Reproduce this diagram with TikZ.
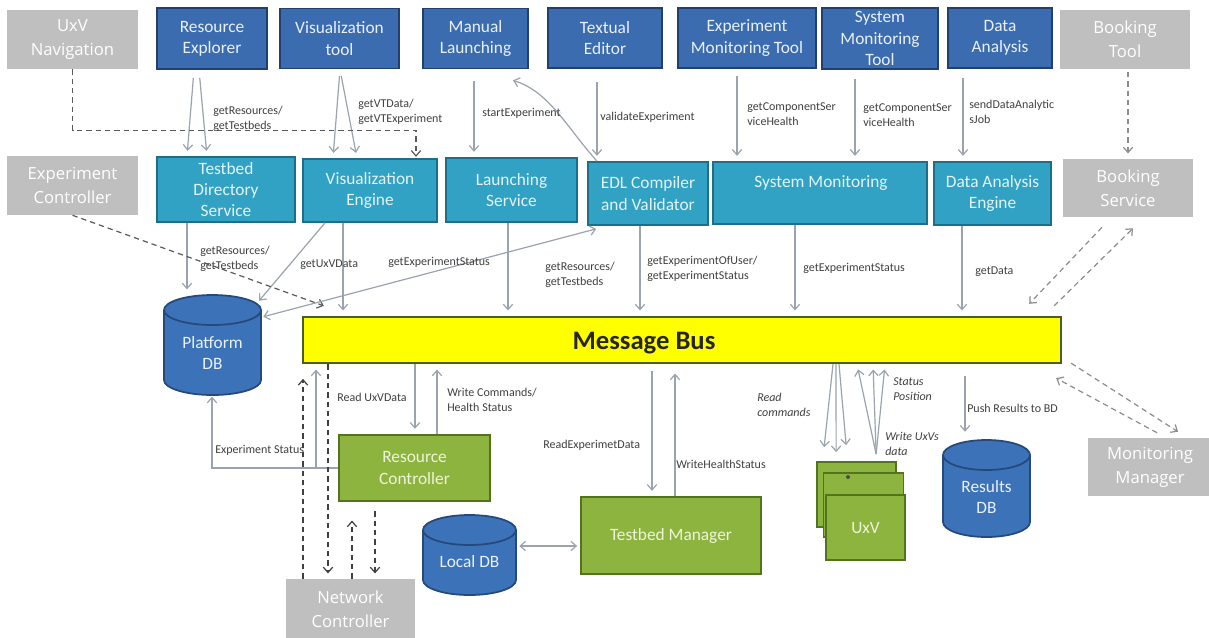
\documentclass[tikz,border=0pt]{standalone}
\usepackage{fontspec}
\setmainfont{Carlito}
\newfontfamily\grayfont{Open Sans}
\usetikzlibrary{arrows.meta,calc}
\def\pxu{0.75pt}
\definecolor{cdblue}{HTML}{3B6CB0}
\definecolor{cdblueB}{HTML}{22406E}
\definecolor{cteal}{HTML}{31A2C3}
\definecolor{ctealB}{HTML}{1D6E88}
\definecolor{cgreen}{HTML}{8DB43E}
\definecolor{cgreenB}{HTML}{55731F}
\definecolor{cgray}{HTML}{BFBFBF}
\definecolor{cyel}{HTML}{FFFF00}
\definecolor{cyelB}{HTML}{4A5E1E}
\definecolor{cdb}{HTML}{3B72B8}
\definecolor{cdbB}{HTML}{24497A}
\definecolor{cline}{HTML}{9AA3AE}
\definecolor{clbl}{HTML}{404040}
\definecolor{cdash}{HTML}{5A5A5A}
\definecolor{cdash2}{HTML}{8C8C8C}
\definecolor{cdash3}{HTML}{404040}
\definecolor{tblue}{HTML}{EAF0F8}
\definecolor{tteal}{HTML}{E4F3F8}
\definecolor{tgreen}{HTML}{EEF4DC}
\tikzset{
  sz/.style 2 args={minimum width=(#1)*\pxu, minimum height=(#2)*\pxu},
  base/.style={align=center, inner sep=1pt, font=\fontsize{13}{16}\selectfont},
  topbox/.style={base, fill=cdblue, draw=cdblueB, line width=1.3pt, text=tblue},
  midbox/.style={base, fill=cteal, draw=ctealB, line width=1.3pt, text=tteal},
  grnbox/.style={base, fill=cgreen, draw=cgreenB, line width=1.3pt, text=tgreen},
  graybox/.style={align=center, inner sep=1pt, fill=cgray, text=white, font=\grayfont\fontsize{12.5}{18}\selectfont},
  busbox/.style={fill=cyel, draw=cyelB, line width=1.8pt},
  dbshape/.style={fill=cdb, draw=cdbB, line width=1.3pt},
  dbtext/.style={align=center, inner sep=0pt, text=tblue, font=\fontsize{13}{16}\selectfont},
  lbl/.style={font=\fontsize{9}{11.25}\selectfont, text=clbl, align=left, inner sep=0pt, anchor=west},
  ilbl/.style={lbl, font=\fontsize{9}{11.25}\selectfont\itshape},
  conn/.style={draw=cline, line width=0.9pt, -{Straight Barb[length=4pt,width=7pt]}, shorten >=4pt},
  dconn/.style={conn, draw=cdash, dash pattern=on 4pt off 3pt},
  dconntwo/.style={conn, draw=cdash2, dash pattern=on 4pt off 3pt},
  dconnthree/.style={conn, draw=cdash3, dash pattern=on 4pt off 3pt},
  both/.style={{Straight Barb[length=4pt,width=7pt]}-{Straight Barb[length=4pt,width=7pt]}}
}
\newcommand\dbcyl[7]{%
  \pgfmathsetmacro\cylrx{(#3-#2)/2*0.75}%
  \pgfmathsetmacro\cylcx{(#2+#3)/2}%
  \filldraw[dbshape] (#2,#4+15) -- (#2,#5-15) arc[start angle=180,end angle=360,x radius=\cylrx pt,y radius=11.25pt] -- (#3,#4+15) arc[start angle=0,end angle=180,x radius=\cylrx pt,y radius=11.25pt] -- cycle;
  \draw[dbshape, fill=none] (#2,#4+15) arc[start angle=180,end angle=360,x radius=\cylrx pt,y radius=11.25pt];
  \node[sz={#3-#2}{#5-#4}, inner sep=0pt] (#1) at (\cylcx,{(#4+#5)/2}) {};
  \node[dbtext] (#1t) at (\cylcx,#6) {#7};
}
\begin{document}
\begin{tikzpicture}[x=0.75pt,y=-0.75pt]
\useasboundingbox (0,0) rectangle (1209,637);
\fill[white] (0,0) rectangle (1209,637);
\clip (0,0) rectangle (1209,637);

% top row
\node[graybox, sz={131}{59}] (uxvnav) at (72.5,39.5) {UxV\\Navigation};
\node[topbox, sz={110}{61}] (resexp) at (212,38.5) {Resource\\Explorer};
\node[topbox, sz={119}{60}] (vistool) at (339.5,38.5) {Visualization\\tool};
\node[topbox, sz={105}{60}] (manl) at (475.5,38.5) {Manual\\Launching};
\node[topbox, sz={114}{60}] (texted) at (605,38) {Textual\\Editor};
\node[topbox, sz={138}{60}] (expmon) at (747,38) {Experiment\\Monitoring Tool};
\node[topbox, sz={116}{61}] (smtool) at (880,38.5) {System\\Monitoring\\Tool};
\node[topbox, sz={104}{60}] (dataan) at (1000,38) {Data\\Analysis};
\node[graybox, sz={130}{59}] (booktool) at (1125,39.5) {Booking\\Tool};

% second row
\node[graybox, sz={131}{59}] (expctrl) at (72.5,185.5) {Experiment\\Controller};
\node[midbox, sz={138}{65}] (tds) at (226,189.5) {Testbed\\Directory\\Service};
\node[midbox, sz={134}{63}] (viseng) at (370,190.5) {Visualization\\Engine};
\node[midbox, sz={131}{64}] (launch) at (511.5,190) {Launching\\Service};
\node[midbox, sz={120}{63}] (edl) at (648,193.5) {EDL Compiler\\and Validator};
\node[midbox, sz={214}{62}] (sysmon) at (820,193) {};
\node[base, text=tteal] (sysmont) at (821,183) {System Monitoring};
\node[midbox, sz={117}{63}] (dae) at (992.5,193.5) {Data Analysis\\Engine};
\node[graybox, sz={130}{58}] (booksvc) at (1128,188) {Booking\\Service};

% bus
\node[busbox, sz={758}{46}] (bus) at (682,340) {};
\node[font=\bfseries\fontsize{20}{24}\selectfont, text=black!85, inner sep=0pt] (bust) at (644,343) {Message Bus};

% bottom
\node[grnbox, sz={151}{66}] (resctrl) at (414.5,468) {Resource\\Controller};
\node[graybox, sz={129}{60}] (netctrl) at (350.5,609) {Network\\Controller};
\node[grnbox, sz={180}{77}] (tbm) at (671,535.5) {Testbed Manager};
\node[grnbox, sz={79}{65}] (uxv1) at (856.5,494.5) {};
\node[grnbox, sz={80}{64}] (uxv2) at (863.5,505) {};
\node[grnbox, sz={79}{65}] (uxv3) at (865.5,527.5) {UxV};
\fill[black!70] (848,477) circle[radius=1.5pt];
\node[graybox, sz={124}{58}] (monmgr) at (1150,467) {Monitoring\\Manager};

\dbcyl{pdb}{164}{261}{295}{395}{353}{Platform\\DB}
\dbcyl{ldb}{423}{516}{515}{595}{562}{Local DB}
\dbcyl{rdb}{943}{1030}{440}{537}{497}{Results\\DB}

% top -> second row
\draw[conn, shorten <=6pt] (resexp.south -| 194,0) -- (tds.north -| 187,0);
\draw[conn, shorten <=6pt] (resexp.south -| 199,0) -- (tds.north -| 207,0);
\draw[conn, shorten <=5pt] (vistool.south -| 340,0) -- (viseng.north -| 333,0);
\draw[conn, shorten <=5pt] (vistool.south -| 340,0) -- (viseng.north -| 357,0);
\draw[conn, shorten <=9pt] (manl.south -| 474,0) -- (launch.north -| 474,0);
\draw[conn, shorten <=10pt] (texted.south -| 597,0) -- (edl.north -| 597,0);
\draw[conn, shorten <=5pt] (expmon.south -| 737,0) -- (sysmon.north -| 737,0);
\draw[conn, shorten <=7pt] (smtool.south -| 855,0) -- (sysmon.north -| 855,0);
\draw[conn, shorten <=7pt] (dataan.south -| 963,0) -- (dae.north -| 963,0);
\draw[dconntwo, shorten <=2pt] (booktool.south -| 1128,0) -- (booksvc.north -| 1128,0);
\draw[conn, shorten >=0pt] (edl.north -| 597,0) .. controls (567,128) and (550,92) .. ($(manl.south)+(37.5,11)$);
\draw[dconn, shorten >=1pt] (uxvnav.south) -- ++(0,61) -| (viseng.north -| 416,0);

% second row -> bus
\draw[conn] (tds.south -| 187,0) -- (pdb.north -| 187,0);
\draw[conn, shorten >=1pt] (viseng.south -| 325,0) -- ($(pdb.north east)+(-3,7)$);
\draw[conn] (viseng.south -| 343,0) -- (bus.north -| 343,0);
\draw[dconn, shorten >=0pt] (expctrl.south) -- ($(bus.north west)+(22,-10)$);
\draw[conn, both, shorten >=0pt] ($(pdb.north east)+(2,22)$) -- ($(edl.south west)+(9,3)$);
\draw[conn] (launch.south -| 508,0) -- (bus.north -| 508,0);
\draw[conn] (edl.south -| 640,0) -- (bus.north -| 640,0);
\draw[conn] (sysmon.south -| 795,0) -- (bus.north -| 795,0);
\draw[conn] (dae.south -| 962,0) -- (bus.north -| 962,0);
\draw[dconntwo, shorten >=0pt] ($(booksvc.south)+(-26,10)$) -- ($(bus.north east)+(-33,-12)$);
\draw[dconntwo, shorten >=0pt] ($(bus.north east)+(-8,-10)$) -- ($(booksvc.south)+(5,11)$);
\draw[dconntwo, shorten >=0pt] ($(bus.south east)+(9,-1)$) -- ($(monmgr.north)+(28,-6)$);
\draw[dconntwo, shorten >=0pt] ($(monmgr.north)+(7,-5)$) -- ($(bus.south east)+(-6,14)$);

% bottom connectors
\draw[conn] (bus.south -| 415,0) -- (resctrl.north -| 415,0);
\draw[conn] (resctrl.north -| 437,0) -- (bus.south -| 437,0);
\draw[conn, shorten >=1pt] (resctrl.west) -| (pdb.south -| 212,0);
\draw[conn] (resctrl.west -| 316,0) -- (bus.south -| 316,0);
\draw[dconnthree, shorten >=11pt] (netctrl.north -| 303,0) -- (bus.south -| 303,0);
\draw[dconnthree] (bus.south -| 328,0) -- (netctrl.north -| 328,0);
\draw[dconnthree, shorten >=14pt] (netctrl.north -| 352,0) -- (resctrl.south -| 352,0);
\draw[dconnthree, shorten <=7pt] (resctrl.south -| 375,0) -- (netctrl.north -| 375,0);
\draw[conn, both, shorten >=0pt] ($(ldb.east)+(3,-9)$) -- ($(tbm.west)+(-3,10.5)$);
\draw[conn, shorten <=5pt] (bus.south -| 652,0) -- (tbm.north -| 652,0);
\draw[conn, shorten >=7pt] (tbm.north -| 675,0) -- (bus.south -| 675,0);
\draw[conn, shorten >=0pt] (bus.south -| 833,0) -- ($(uxv1.north west)+(8,-14)$);
\draw[conn, shorten >=0pt] (bus.south -| 836,0) -- ($(uxv1.north west)+(20,-9)$);
\draw[conn, shorten >=0pt] (bus.south -| 839,0) -- ($(uxv1.north west)+(30,-16)$);
\draw[conn] ($(uxv1.north west)+(60,-7)$) -- (bus.south -| 857,0);
\draw[conn] ($(uxv1.north west)+(60,-7)$) -- (bus.south -| 873,0);
\draw[conn] ($(uxv1.north west)+(60,-7)$) -- (bus.south -| 885,0);
\draw[conn, shorten <=9pt, shorten >=6pt] (bus.south -| 965,0) -- (rdb.north -| 965,0);

% labels
\node[lbl] (l1) at (213,119) {getResources/\\getTestbeds};
\node[lbl] (l2) at (358,112) {getVTData/\\getVTExperiment};
\node[lbl] (l3) at (482,113) {startExperiment};
\node[lbl] (l4) at (600,117) {validateExperiment};
\node[lbl] (l5) at (747,114) {getComponentSer\\viceHealth};
\node[lbl] (l6) at (863,115) {getComponentSer\\viceHealth};
\node[lbl] (l7) at (969,112) {sendDataAnalytic\\sJob};
\node[lbl] (l8) at (200,259) {getResources/\\getTestbeds};
\node[lbl] (l9) at (300,265) {getUxVData};
\node[lbl] (l10) at (388,262) {getExperimentStatus};
\node[lbl] (l11) at (545,275) {getResources/\\getTestbeds};
\node[lbl] (l12) at (647,269) {getExperimentOfUser/\\getExperimentStatus};
\node[lbl] (l13) at (803,268) {getExperimentStatus};
\node[lbl] (l14) at (975,272) {getData};
\node[lbl] (l15) at (337,397) {Read UxVData};
\node[lbl] (l16) at (447,400) {Write Commands/\\Health Status};
\node[lbl] (l17) at (215,450) {Experiment Status};
\node[lbl] (l18) at (543,445) {ReadExperimetData};
\node[lbl] (l19) at (676,464) {WriteHealthStatus};
\node[ilbl] (l20) at (757,405) {Read\\commands};
\node[ilbl] (l21) at (893,389) {Status\\Position};
\node[ilbl] (l22) at (885,444) {Write UxVs\\data};
\node[lbl] (l23) at (967,408) {Push Results to BD};
\end{tikzpicture}
\end{document}
